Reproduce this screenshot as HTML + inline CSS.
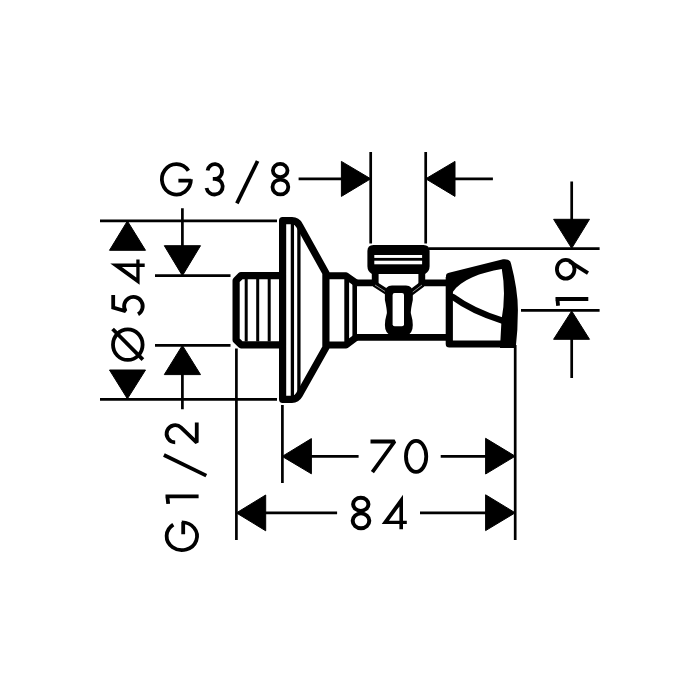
<!DOCTYPE html>
<html>
<head>
<meta charset="utf-8">
<style>
html,body{margin:0;padding:0;background:#fff;width:700px;height:700px;overflow:hidden;font-family:"Liberation Sans",sans-serif;}
svg{display:block;}
</style>
</head>
<body>
<svg width="700" height="700" viewBox="0 0 700 700">

<!-- ===== dimension lines ===== -->
<g stroke="#000" stroke-width="2.7" fill="none">
  <!-- O54 extension lines -->
  <path d="M100 220.9 H277 M100 399.3 H277"/>
  <!-- G1/2 extension lines -->
  <path d="M155 275.6 H230.5 M155 345.4 H230.5"/>
  <!-- G1/2 arrow stems -->
  <path d="M182.4 208.2 V247 M182.4 373 V409.3"/>
  <!-- G3/8 extension lines -->
  <path d="M370.7 152.1 V243.6 M425.7 152.1 V243.6"/>
  <path d="M298.6 178.8 H342 M454 178.8 H492.9"/>
  <!-- 19 -->
  <path d="M428.6 248.6 H599.6 M521 310.4 H599.6"/>
  <path d="M571.7 181.4 V220 M571.7 338 V377.9"/>
  <!-- 70 / 84 -->
  <path d="M282.4 405 V482.9 M236.4 348.6 V540 M515.2 345 V540"/>
  <path d="M311 456.4 H358.6 M440.7 456.4 H486"/>
  <path d="M265 512.9 H337.1 M420 512.9 H486"/>
</g>

<!-- arrow heads -->
<g fill="#000" stroke="#000" stroke-width="1" stroke-linejoin="round">
  <!-- O54 -->
  <path d="M127.4 221 L109.5 250.3 H145.5 Z"/>
  <path d="M127.4 398.8 L109.5 370 H145.5 Z"/>
  <!-- G1/2 -->
  <path d="M182.4 275.7 L164.3 245.7 H200.5 Z"/>
  <path d="M182.4 345.4 L164.3 374.6 H200.5 Z"/>
  <!-- G3/8 -->
  <path d="M370.7 178.8 L341.4 161.4 V196.4 Z"/>
  <path d="M425.7 178.8 L455 161.4 V196.4 Z"/>
  <!-- 19 -->
  <path d="M571.7 248.3 L553.6 219.3 H589.5 Z"/>
  <path d="M571.7 311 L553.6 339.3 H589.5 Z"/>
  <!-- 70 -->
  <path d="M282.2 456.4 L311.4 438.6 V473.8 Z"/>
  <path d="M515.2 456.2 L485.6 438.3 V474 Z"/>
  <!-- 84 -->
  <path d="M236.4 512.9 L265.7 495 V530.8 Z"/>
  <path d="M515.2 512.8 L485.6 494.8 V530.6 Z"/>
</g>

<!-- ===== text ===== -->
<g stroke="#000" stroke-width="3.8" fill="none" stroke-linecap="butt" stroke-miterlimit="2.2">
  <!-- G3/8 -->
  <g transform="translate(159.8 162.5)"><path d="M31.1 16.8 A14.5 15.2 0 1 1 28.6 8.3 M18.6 18.2 H31.4"/></g>
  <g transform="translate(204.2 162.5)"><path d="M3.42 7.93 A7.25 7.35 0 1 1 10.6 16.3 H8.6 M10.4 16.3 A8.15 7.85 0 1 1 2.32 25.52"/></g>
  <path d="M257.6 161 L236.9 203.3"/>
  <g transform="translate(270.5 162.2)"><ellipse cx="9.7" cy="8.3" rx="7.3" ry="6.55"/><ellipse cx="9.9" cy="24.8" rx="7.9" ry="7.45"/></g>
  <!-- 70 -->
  <g transform="translate(370 439.3)"><path d="M0.5 2.2 H24.6 L2.4 32.8" stroke-linejoin="miter" stroke-miterlimit="1.6"/></g>
  <g transform="translate(404.3 439.3)"><ellipse cx="11.8" cy="17.15" rx="10.15" ry="15.5"/></g>
  <!-- 84 -->
  <g transform="translate(350.6 496) scale(1.05 1)"><ellipse cx="9.7" cy="8.3" rx="7.3" ry="6.55"/><ellipse cx="9.9" cy="24.8" rx="7.9" ry="7.45"/></g>
  <g transform="translate(381.4 494.3)"><path d="M21.6 0.5 V26.5 H25.4 V29.8 H21.6 V34.9 H18 V29.8 H0.3 Z M18 12.08 V26.5 H7.52 Z" fill="#000" fill-rule="evenodd" stroke="none"/></g>
  <!-- O54 rotated -->
  <g transform="translate(109.8 285) rotate(-90)"><path d="M21.6 0.5 V26.5 H25.4 V29.8 H21.6 V34.9 H18 V29.8 H0.3 Z M18 12.08 V26.5 H7.52 Z" fill="#000" fill-rule="evenodd" stroke="none"/></g>
  <g transform="translate(111.3 316) rotate(-90)"><path d="M21 1.9 H8.5 L4.71 14.32 A9.3 9.3 0 1 1 1.75 26.75" stroke-linejoin="miter"/></g>
  <ellipse cx="127.8" cy="344.7" rx="14.8" ry="15.25"/>
  <path d="M112.6 329 L142.9 359.6"/>
  <!-- G1/2 rotated -->
  <g transform="translate(164.4 444.2) rotate(-90)"><path d="M1.9 10.8 A8.6 8.6 0 1 1 16.69 16.77 L1.65 32.35 H21.6" stroke-linejoin="miter"/></g>
  <path d="M163.9 455 L206.3 475.6"/>
  <path d="M198.6 496.4 H165.5 M167.3 495.5 L168.2 503.9"/>
  <g transform="translate(165 552.1) rotate(-90) scale(0.96 1)"><path d="M31.1 16.8 A14.5 15.2 0 1 1 28.6 8.3 M18.6 18.2 H31.4"/></g>
  <!-- 19 rotated -->
  <g transform="translate(555.2 280.7) rotate(-90)"><ellipse cx="11.5" cy="10.5" rx="9.4" ry="8.8"/><path d="M19.4 14.2 L7.6 32.8"/></g>
  <path d="M588.3 299 H555.5 M557.3 298 L558.1 305.8"/>
</g>

<!-- ===== valve body ===== -->
<g stroke="#000" fill="none" stroke-linejoin="round">
  <!-- nipple -->
  <path d="M282 275.6 H241 L236.1 280.5 V340 L241 344.8 H282" stroke-width="7.2"/>
  <path d="M246.2 279 V341.4 M257.7 279 V341.4 M269.2 279 V341.4" stroke-width="3"/>
  <!-- flange -->
  <path d="M282.6 220.7 H292 Q297 220.7 299.5 225.5 L325.9 273 V347.5 L299.3 394.8 Q296.8 399.3 292 399.3 H282.6 Z" stroke-width="7.2"/>
  <path d="M292.4 223 V397 M298.9 226 V394" stroke-width="3.3"/>
  <!-- nut -->
  <path d="M325.9 275.8 H346 L356 282.8 M325.9 345.1 H346 L356 337.4" stroke-width="7"/>
  <path d="M346.7 279 V342" stroke-width="4.8"/>
  <path d="M354.7 282.8 V337.4" stroke-width="4.6"/>
  <!-- pipe -->
  <path d="M355 282.8 H375 M421.7 282.8 H450 M355 337.4 H450" stroke-width="6.8"/>
  <!-- neck -->
  <path d="M375.2 271 V284 M421.8 271 V284" stroke-width="6.8"/>
  <path d="M374.5 284 L388.5 293 M422.5 284 L410.5 293" stroke-width="6"/>
</g>
<path d="M375 285 L388 293.3 M422 285 L411 293.3" stroke="#fff" stroke-width="0.8" opacity="0.7"/>
<!-- cap -->
<path d="M373.5 245 H423.5 Q429.6 245 429.6 251 V266 Q429.6 271.5 425 273.9 H372 Q367.4 271.5 367.4 266 V251 Q367.4 245 373.5 245 Z" fill="#000"/>
<rect x="374.3" y="255" width="47.8" height="2.9" fill="#fff"/>
<rect x="374.3" y="260.7" width="47.8" height="3.6" fill="#fff"/>
<!-- handle -->
<path d="M392 285.5 H406 Q412.8 285.5 412.8 293 V300 Q410.8 309 410.8 313 Q412.8 320 412.8 325 Q412.8 333 407 335.5 H391 Q384.9 333 384.9 325 Q384.9 320 386.9 313 Q386.9 309 384.9 300 V293 Q384.9 285.5 392 285.5 Z" fill="#000"/>
<rect x="392.6" y="293.1" width="11.4" height="33.2" rx="2" fill="#fff"/>

<!-- knob -->
<g stroke="#000" fill="none" stroke-linejoin="round">
  <path d="M449.3 277 V344 H514" stroke-width="7.2"/>
  <path d="M453 297 Q472 311 502 320.5" stroke-width="6.3" stroke-linecap="round"/>
</g>
<path d="M446 276 Q446 273.3 449 272.8 L503 259.3 Q510.7 258.6 511 263.6 Q517.9 290 517.9 310 Q517.9 330 515.7 348 L500 348 L501.5 320 Q506.3 294 501.8 269.1 C480 273 462 279 452.2 292.7 L452.9 300 L446 300 Z" fill="#000"/>
</svg>
</body>
</html>
